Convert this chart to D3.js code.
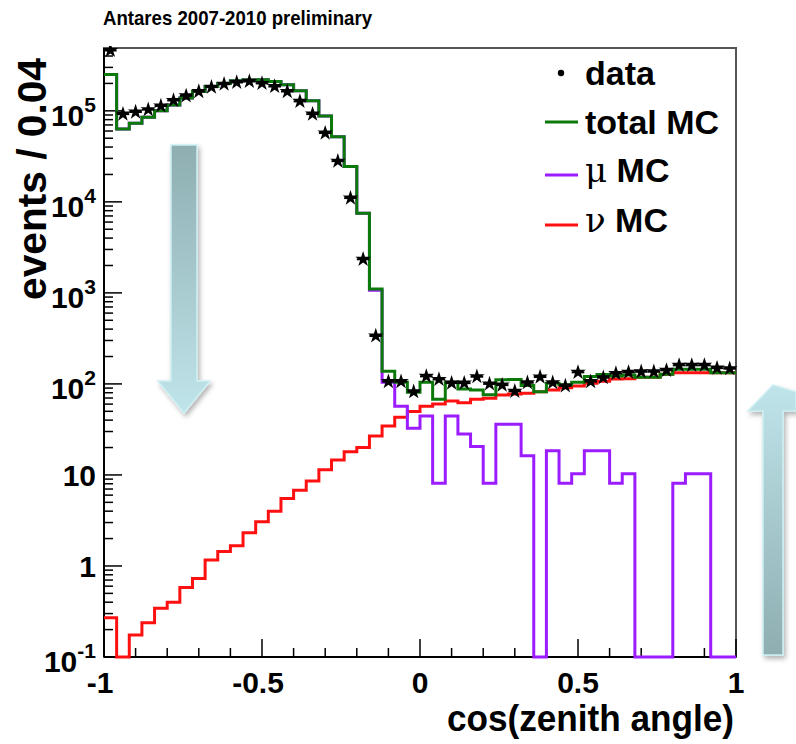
<!DOCTYPE html>
<html lang="en">
<head>
<meta charset="UTF-8">
<title>Antares 2007-2010 preliminary</title>
<script src="https://d3js.org/d3.v7.min.js"></script>
<style>
    body { margin: 0; background: #fff; }
    svg { display: block; font-family: "Liberation Sans", Arial, Helvetica, sans-serif; font-weight: bold; }
    .tick-label { font-size: 30px; fill: #000; }
    .axis-title { font-size: 36px; fill: #000; }
    .legend-text { font-size: 34px; fill: #000; }
    .greek { font-family: "DejaVu Serif", "Liberation Serif", serif; font-weight: normal; }
</style>
</head>
<body>
<svg id="chart" width="796" height="744"></svg>
<script>
// 50 bins of 0.04 in cos(zenith angle), from -1 to 1
const xRange = [-1, 1];
const binWidth = 0.04;

// black points (data)
const dataCounts = [
    4.6e5, 9.2e4, 9.7e4, 1.03e5, 1.13e5, 1.3e5, 1.46e5, 1.63e5, 1.82e5, 1.96e5,
    2.05e5, 2.1e5, 2.0e5, 1.85e5, 1.63e5, 1.27e5, 9.2e4, 5.7e4, 2.8e4, 1.1e4,
    2340, 336, 106, 106, 82, 121, 112, 102, 102, 120,
    100, 97, 83, 103, 119, 103, 95, 134, 106, 117,
    130, 134, 136, 136, 141, 160, 160, 160, 149, 147
];

// green: total MC
const totalMC = [
    2.5e5, 6.3e4, 7.3e4, 8.5e4, 1.0e5, 1.16e5, 1.38e5, 1.63e5, 1.85e5, 2.0e5,
    2.14e5, 2.2e5, 2.2e5, 2.1e5, 1.93e5, 1.66e5, 1.29e5, 8.8e4, 5.2e4, 2.45e4,
    7500, 1100, 138, 104, 81, 104, 68, 104, 88, 86,
    76, 111, 112, 96, 82, 102, 98, 104, 121, 127,
    122, 125, 118, 118, 128, 145, 145, 145, 133, 133
];

// purple: mu MC (0 = empty bin)
const muMC = [
    2.5e5, 6.3e4, 7.3e4, 8.5e4, 1.0e5, 1.16e5, 1.38e5, 1.63e5, 1.85e5, 2.0e5,
    2.14e5, 2.2e5, 2.2e5, 2.1e5, 1.93e5, 1.66e5, 1.29e5, 8.8e4, 5.2e4, 2.45e4,
    7480, 1070, 104, 57, 32.6, 44.5, 8.1, 44.5, 28.2, 20.5,
    8.1, 36, 36, 16.2, 0, 18.4, 8.1, 10.3, 18.4, 18.4,
    8.1, 10.3, 0, 0, 0, 8.1, 10.3, 10.3, 0, 0
];

// red: nu MC
const nuMC = [
    0.27, 0.1, 0.175, 0.238, 0.343, 0.40, 0.58, 0.73, 1.16, 1.44,
    1.67, 2.32, 3.07, 4.0, 5.5, 6.8, 8.6, 11.4, 14.6, 18,
    20, 26.8, 34.5, 43, 49.7, 57, 60, 65, 62, 68,
    69.5, 75.7, 77.6, 79, 82, 86, 91, 95, 102, 107,
    113, 114, 118, 118, 128, 133, 133, 133, 133, 133
];

const yRange = [0.1, 4.9e5];
const xTickLabels = ["-1", "-0.5", "0", "0.5", "1"];
const yTickExps = [-1, 0, 1, 2, 3, 4, 5];

const colors = { data: "#000", total: "#0b7a0b", mu: "#9b1cff", nu: "#ff1010" };

const svg = d3.select("#chart");
const margin = { left: 104, right: 60, top: 48, bottom: 87 };
const W = 796, H = 744;

const x = d3.scaleLinear().domain(xRange).range([margin.left, W - margin.right]);
const y = d3.scaleLog().domain(yRange).range([H - margin.bottom, margin.top]).clamp(true);

const binLows = d3.range(50).map(i => xRange[0] + i * binWidth);

// ---------- decorative arrows ----------
const defs = svg.append("defs");
const gDown = defs.append("linearGradient").attr("id", "gradDown")
    .attr("x1", 0).attr("y1", 0).attr("x2", 0).attr("y2", 1);
gDown.append("stop").attr("offset", "0%").attr("stop-color", "#8eaeb1");
gDown.append("stop").attr("offset", "100%").attr("stop-color", "#bfe4ea");
const gUp = defs.append("linearGradient").attr("id", "gradUp")
    .attr("x1", 0).attr("y1", 1).attr("x2", 0).attr("y2", 0);
gUp.append("stop").attr("offset", "0%").attr("stop-color", "#8eaeb1");
gUp.append("stop").attr("offset", "100%").attr("stop-color", "#bfe4ea");
const shadow = defs.append("filter").attr("id", "shadow")
    .attr("x", "-30%").attr("y", "-10%").attr("width", "160%").attr("height", "120%");
shadow.append("feDropShadow").attr("dx", 2).attr("dy", 3).attr("stdDeviation", 2.5)
    .attr("flood-color", "#000").attr("flood-opacity", 0.3);

svg.append("path")
    .attr("d", "M171,145 L197,145 L197,381 L210,381 L184,413 L158,381 L171,381 Z")
    .attr("fill", "url(#gradDown)").attr("stroke", "#cdeff3").attr("stroke-width", 1.5)
    .attr("filter", "url(#shadow)");
svg.append("path")
    .attr("d", "M763,655 L783,655 L783,411 L796,411 L796,392 L773,385 L748,411 L763,411 Z")
    .attr("fill", "url(#gradUp)").attr("stroke", "#cdeff3").attr("stroke-width", 1.5)
    .attr("filter", "url(#shadow)");

// ---------- frame ----------
svg.append("rect")
    .attr("x", margin.left).attr("y", margin.top)
    .attr("width", W - margin.right - margin.left)
    .attr("height", H - margin.bottom - margin.top)
    .attr("fill", "none").attr("stroke", "#555").attr("stroke-width", 2);

// y axis ticks (log)
const yAxisG = svg.append("g");
const yBottom = H - margin.bottom;
yAxisG.append("line").attr("x1", margin.left).attr("x2", margin.left)
    .attr("y1", margin.top).attr("y2", yBottom).attr("stroke", "#000").attr("stroke-width", 2);
yTickExps.forEach(e => {
    for (let k = 1; k <= 9; k++) {
        const v = k * Math.pow(10, e);
        if (v < yRange[0] || v > yRange[1]) continue;
        const len = k === 1 ? 18 : 9;
        yAxisG.append("line")
            .attr("x1", margin.left).attr("x2", margin.left + len)
            .attr("y1", y(v)).attr("y2", y(v))
            .attr("stroke", "#000").attr("stroke-width", 1.5);
    }
});
yTickExps.forEach(e => {
    const ty = y(Math.pow(10, e));
    const t = yAxisG.append("text").attr("class", "tick-label")
        .attr("text-anchor", "end").attr("x", margin.left - 8);
    if (e === 0 || e === 1) {
        t.attr("y", ty + 11).text(e === 0 ? "1" : "10");
    } else {
        t.attr("y", ty + 15);
        t.append("tspan").text("10");
        t.append("tspan").attr("dy", -14).style("font-size", "21px").text(e);
    }
});

// x axis ticks
const xAxisG = svg.append("g");
xAxisG.append("line").attr("x1", margin.left).attr("x2", W - margin.right)
    .attr("y1", yBottom).attr("y2", yBottom).attr("stroke", "#000").attr("stroke-width", 2);
d3.range(-10, 11).forEach(i => {
    const v = i / 10;
    const major = i % 5 === 0;
    xAxisG.append("line")
        .attr("x1", x(v)).attr("x2", x(v))
        .attr("y1", yBottom).attr("y2", yBottom - (major ? 18 : 9))
        .attr("stroke", "#000").attr("stroke-width", 1.5);
});
x.ticks(4).forEach((v, i) => {
    xAxisG.append("text").attr("class", "tick-label")
        .attr("x", x(v) - (v < 0 ? 4 : 0)).attr("y", yBottom + 36)
        .attr("text-anchor", "middle").text(xTickLabels[i]);
});

// axis titles
svg.append("text").attr("class", "axis-title")
    .attr("x", W - margin.right - 2).attr("y", 731).attr("text-anchor", "end")
    .attr("textLength", 287).attr("lengthAdjust", "spacingAndGlyphs")
    .text("cos(zenith angle)");
svg.append("text").attr("class", "axis-title")
    .style("font-size", "40px")
    .attr("transform", `translate(46, 58) rotate(-90)`).attr("text-anchor", "end")
    .attr("textLength", 242).attr("lengthAdjust", "spacingAndGlyphs")
    .text("events / 0.04");

// title
svg.append("text").attr("x", 103).attr("y", 25)
    .style("font-size", "21px")
    .attr("textLength", 269).attr("lengthAdjust", "spacingAndGlyphs")
    .text("Antares 2007-2010 preliminary");

// ---------- histograms ----------
const clip = defs.append("clipPath").attr("id", "plotClip");
clip.append("rect").attr("x", margin.left - 2).attr("y", margin.top - 2)
    .attr("width", W - margin.right - margin.left + 4)
    .attr("height", H - margin.bottom - margin.top + 4);

const plot = svg.append("g").attr("clip-path", "url(#plotClip)");

const stepLine = d3.line()
    .x(d => x(d[0]))
    .y(d => y(Math.max(d[1], yRange[0])))
    .curve(d3.curveStepAfter);

function histPath(values) {
    const pts = values.map((v, i) => [binLows[i], v]);
    pts.push([xRange[1], values[values.length - 1]]);
    return stepLine(pts);
}

[[nuMC, colors.nu], [muMC, colors.mu], [totalMC, colors.total]].forEach(([vals, c]) => {
    plot.append("path").attr("d", histPath(vals))
        .attr("fill", "none").attr("stroke", c).attr("stroke-width", 3);
});

// data points with horizontal bin-width bars
const pts = plot.append("g");
dataCounts.forEach((v, i) => {
    const x0 = binLows[i];
    pts.append("line")
        .attr("x1", x(x0)).attr("x2", x(x0 + binWidth))
        .attr("y1", y(v)).attr("y2", y(v))
        .attr("stroke", colors.data).attr("stroke-width", 2);
});
pts.selectAll("path.pt").data(dataCounts).join("path")
    .attr("class", "pt")
    .attr("transform", (v, i) => `translate(${x(binLows[i] + binWidth / 2)},${y(v)})`)
    .attr("d", d3.symbol(d3.symbolStar, 75))
    .attr("fill", colors.data);

// ---------- legend ----------
const legend = svg.append("g");
legend.append("circle").attr("cx", 561).attr("cy", 73).attr("r", 3.2).attr("fill", colors.data);
legend.append("text").attr("class", "legend-text").attr("x", 585).attr("y", 85).text("data");

const legendRows = [
    { color: colors.total, y: 122, base: 134, greek: null, label: "total MC" },
    { color: colors.mu, y: 175, base: 182, greek: "\u03bc", label: " MC" },
    { color: colors.nu, y: 225, base: 232, greek: "\u03bd", label: " MC" }
];
legendRows.forEach(r => {
    legend.append("line").attr("x1", 545).attr("x2", 578)
        .attr("y1", r.y).attr("y2", r.y)
        .attr("stroke", r.color).attr("stroke-width", 3);
    const t = legend.append("text").attr("class", "legend-text").attr("x", 585).attr("y", r.base);
    if (r.greek) t.append("tspan").attr("class", "greek").text(r.greek);
    t.append("tspan").text(r.label);
});
</script>
</body>
</html>
